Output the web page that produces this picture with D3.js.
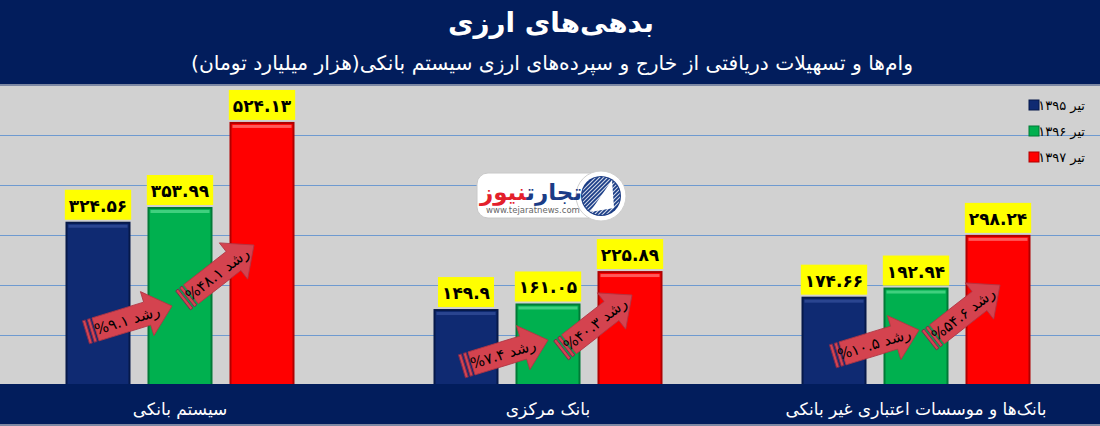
<!DOCTYPE html>
<html>
<head>
<meta charset="utf-8">
<script src="https://cdn.jsdelivr.net/npm/d3@7"></script>
<style>
  html, body { margin: 0; padding: 0; background: #d1d1d1; }
  svg { display: block; }
  .fa { font-family: "DejaVu Sans", "Noto Sans", sans-serif; }
</style>
</head>
<body>
<svg id="chart" width="1100" height="426"></svg>
<script>
// ---------- data ----------
const titleText = "بدهی‌های ارزی";
const subtitleText = "وام‌ها و تسهیلات دریافتی از خارج و سپرده‌های ارزی سیستم بانکی(هزار میلیارد تومان)";
const categories = ["سیستم بانکی", "بانک مرکزی", "بانک‌ها و موسسات اعتباری غیر بانکی"];
const seriesNames = ["تیر ۱۳۹۵", "تیر ۱۳۹۶", "تیر ۱۳۹۷"];
const values1395 = [324.56, 149.9, 174.66];
const values1396 = [353.99, 161.05, 192.94];
const values1397 = [524.13, 225.89, 298.24];
const growth95to96 = [9.1, 7.4, 10.5];
const growth96to97 = [48.1, 40.3, 54.6];
const yTicks = [100, 200, 300, 400, 500];

// ---------- layout / style ----------
const W = 1100, H = 426;
const headerH = 84, baseY = 385, bandTop = 384;
const colors = ["#0f2a72", "#00b04f", "#ff0000"];
const strokes = ["#06194a", "#007a36", "#b00000"];
const tops = ["#2a4590", "#3fd07e", "#ff5a5a"];
// arrow annotation anchors (value units on the y scale), x offsets and angles
const arrowTipValue = [[158, 280], [90, 180], [110, 200]];
const arrowTipDx = [[-8, -8], [0, 2], [3, 2]];
const arrowAngle = [-17, -38];

const faDigits = "۰۱۲۳۴۵۶۷۸۹";
const toFa = s => String(s).replace(/[0-9]/g, d => faDigits[+d]);

const series = [values1395, values1396, values1397];

const svg = d3.select("#chart");

// background
svg.append("rect").attr("x", 0).attr("y", 0).attr("width", W).attr("height", H).attr("fill", "#d1d1d1");

// scales
const x0 = d3.scaleBand().domain(categories).range([-4, 1100]).padding(0);
const x1 = d3.scaleBand().domain(seriesNames).range([-123, 123]).paddingInner(0.2317).paddingOuter(0.2317 / 2);
const y = d3.scaleLinear().domain([0, 600]).range([baseY, baseY - 300]);

// gridlines via axis
const grid = svg.append("g")
  .call(d3.axisRight(y).tickValues(yTicks).tickSize(W).tickFormat(""));
grid.select(".domain").remove();
grid.selectAll(".tick line").attr("stroke", "#6e9ad0").attr("stroke-width", 1).attr("shape-rendering", "crispEdges");

// header
svg.append("rect").attr("x", 0).attr("y", 0).attr("width", W).attr("height", headerH).attr("fill", "#021d5c");
svg.append("rect").attr("x", 0).attr("y", headerH).attr("width", W).attr("height", 2).attr("fill", "#7d88a3");
svg.append("text").attr("class", "fa").attr("x", 551).attr("y", 32)
  .attr("text-anchor", "middle").style("direction", "rtl")
  .attr("textLength", 206).attr("lengthAdjust", "spacingAndGlyphs")
  .attr("fill", "#fff").attr("font-size", 27).attr("font-weight", "bold").text(titleText);
svg.append("text").attr("class", "fa").attr("x", 552).attr("y", 70)
  .attr("text-anchor", "middle").style("direction", "rtl")
  .attr("textLength", 722).attr("lengthAdjust", "spacingAndGlyphs")
  .attr("fill", "#fff").attr("font-size", 20).text(subtitleText);

// logo watermark
const logo = svg.append("g");
logo.append("rect").attr("x", 477).attr("y", 173).attr("width", 128).attr("height", 45).attr("rx", 11)
  .attr("fill", "#fff").attr("stroke", "#c8c8c8");
logo.append("circle").attr("cx", 601).attr("cy", 196).attr("r", 25).attr("fill", "#fff").attr("stroke", "#d0d0d0");
logo.append("circle").attr("cx", 601).attr("cy", 196).attr("r", 20).attr("fill", "#1b3c86");
const defs = svg.append("defs");
defs.append("clipPath").attr("id", "logoClip").append("circle").attr("cx", 601).attr("cy", 196).attr("r", 19);
const stripes = logo.append("g").attr("clip-path", "url(#logoClip)");
for (let i = -6; i <= 6; i++) {
  stripes.append("line").attr("x1", 581 + i * 4).attr("y1", 216).attr("x2", 601 + i * 4 + 20).attr("y2", 176)
    .attr("stroke", "#fff").attr("stroke-width", 1.2).attr("opacity", 0.8);
}
logo.append("path").attr("d", "M590,212 L612,180 L614,208 Z").attr("fill", "#fff");
const lt = logo.append("text").attr("class", "fa").attr("x", 531).attr("y", 200)
  .attr("text-anchor", "middle").style("direction", "rtl").attr("font-size", 23).attr("font-weight", "bold");
lt.append("tspan").attr("fill", "#1b3c86").text("تجارت");
lt.append("tspan").attr("fill", "#e3202b").text("نیوز");
logo.append("text").attr("x", 533).attr("y", 213).attr("text-anchor", "middle")
  .attr("font-family", "DejaVu Sans, sans-serif").attr("font-size", 8.5).attr("fill", "#666")
  .text("www.tejaratnews.com");

// bars
const groups = svg.append("g").selectAll("g").data(categories).join("g")
  .attr("transform", d => `translate(${x0(d) + x0.bandwidth() / 2},0)`);

const barData = (cat, ci) => seriesNames.map((s, si) => ({ cat, ci, s, si, v: series[si][ci] }));

groups.each(function (cat, ci) {
  const g = d3.select(this);
  const bd = barData(cat, ci);
  const bars = g.selectAll("g.bar").data(bd).join("g").attr("class", "bar");
  bars.append("rect")
    .attr("x", d => x1(d.s)).attr("y", d => y(d.v))
    .attr("width", x1.bandwidth()).attr("height", d => baseY - y(d.v))
    .attr("fill", d => colors[d.si]).attr("stroke", d => strokes[d.si]).attr("stroke-width", 2);
  bars.append("rect")
    .attr("x", d => x1(d.s) + 2).attr("y", d => y(d.v) + 2)
    .attr("width", x1.bandwidth() - 4).attr("height", 3)
    .attr("fill", d => tops[d.si]);
  // value labels
  bars.each(function (d) {
    const b = d3.select(this);
    const t = b.append("text").attr("class", "fa")
      .attr("x", x1(d.s) + x1.bandwidth() / 2).attr("y", y(d.v) - 11)
      .attr("text-anchor", "middle").attr("font-size", 17).attr("font-weight", "bold")
      .attr("fill", "#000").text(toFa(d.v));
    const tw = t.node().getComputedTextLength();
    b.insert("rect", "text")
      .attr("x", x1(d.s) + x1.bandwidth() / 2 - tw / 2 - 4).attr("y", y(d.v) - 33)
      .attr("width", tw + 8).attr("height", 30).attr("fill", "#ffff00");
  });
});

// growth arrows
const L = 90, hl = 26, hw = 23, bw = 12;
const arrowPath = `M${-L + 10},${-bw} L${-hl},${-bw} L${-hl},${-hw} L0,0 L${-hl},${hw} L${-hl},${bw} L${-L + 10},${bw} Z`;
groups.each(function (cat, ci) {
  const g = d3.select(this);
  const growths = [growth95to96[ci], growth96to97[ci]];
  growths.forEach((gv, k) => {
    const tipX = x1(seriesNames[k + 1]) + x1.bandwidth() / 2 + arrowTipDx[ci][k];
    const tipY = y(arrowTipValue[ci][k]);
    const a = g.append("g").attr("transform", `translate(${tipX},${tipY}) rotate(${arrowAngle[k]})`);
    a.append("rect").attr("x", -L).attr("y", -bw).attr("width", 3).attr("height", bw * 2)
      .attr("fill", "#d4434f").attr("stroke", "#7a2a50").attr("stroke-width", 0.9);
    a.append("rect").attr("x", -L + 5).attr("y", -bw).attr("width", 3).attr("height", bw * 2)
      .attr("fill", "#d4434f").attr("stroke", "#7a2a50").attr("stroke-width", 0.9);
    a.append("path").attr("d", arrowPath).attr("fill", "#d4434f").attr("stroke", "#b03543").attr("stroke-width", 0.8);
    a.append("text").attr("class", "fa").attr("x", -47).attr("y", 5.5)
      .attr("text-anchor", "middle").style("direction", "rtl")
      .attr("font-size", 15).attr("fill", "#000")
      .text(`رشد ${toFa(gv)}%`);
  });
});

// bottom band + category axis
svg.append("rect").attr("x", 0).attr("y", bandTop).attr("width", W).attr("height", H - bandTop).attr("fill", "#021d5c");
svg.append("rect").attr("x", 0).attr("y", H - 2).attr("width", W).attr("height", 2).attr("fill", "#7d88a3");
const xAxis = svg.append("g").attr("transform", `translate(0,${bandTop})`)
  .call(d3.axisBottom(x0).tickSize(0).tickPadding(19));
xAxis.select(".domain").remove();
xAxis.selectAll("text").attr("class", "fa").attr("fill", "#fff").attr("font-size", 17)
  .style("direction", "rtl").attr("font-family", "DejaVu Sans, sans-serif");

// legend
const legend = svg.append("g").selectAll("g").data(seriesNames).join("g")
  .attr("transform", (d, i) => `translate(0,${105 + i * 26})`);
legend.append("rect").attr("x", 1029).attr("y", -5).attr("width", 10).attr("height", 10)
  .attr("fill", (d, i) => colors[i]).attr("stroke", (d, i) => strokes[i]).attr("stroke-width", 1);
legend.append("text").attr("class", "fa").attr("x", 1085).attr("y", 4.5)
  .attr("text-anchor", "start").style("direction", "rtl")
  .attr("font-size", 13).attr("fill", "#000").text(d => d);
</script>
</body>
</html>
